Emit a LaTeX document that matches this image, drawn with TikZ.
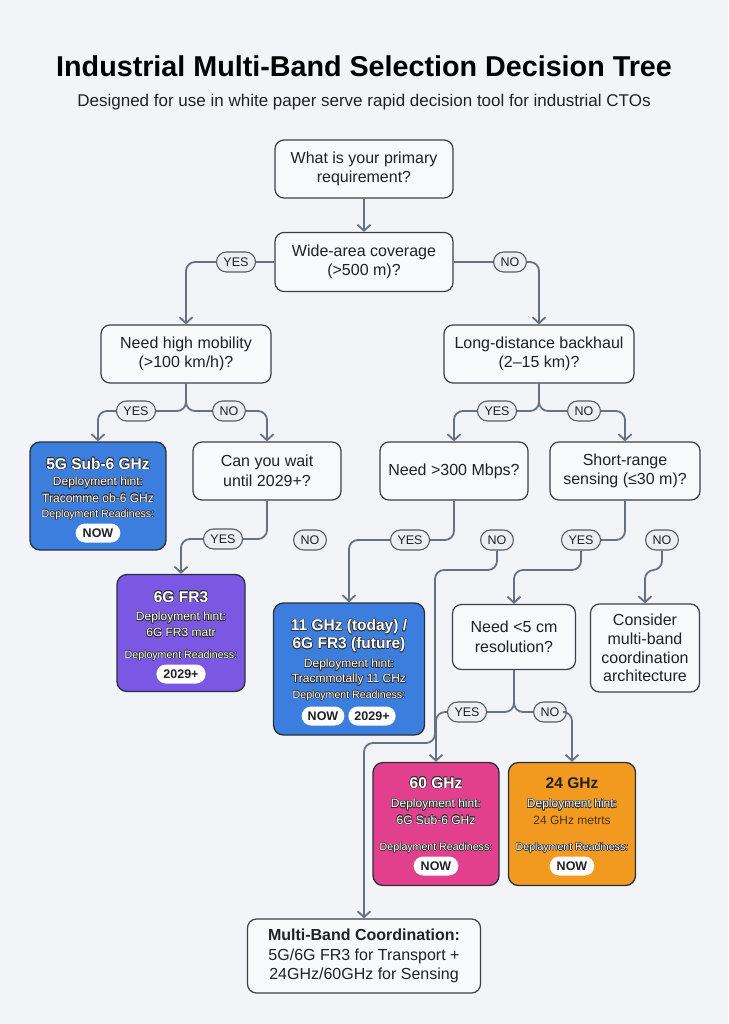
\documentclass[tikz,border=0pt]{standalone}
\usepackage{fontspec}
\setmainfont{Liberation Sans}
\usepackage{contour}
\contourlength{0.5pt}
\usetikzlibrary{arrows.meta,shapes.misc}
\definecolor{bg}{HTML}{F2F4F7}
\definecolor{boxfill}{HTML}{F8F9FB}
\definecolor{boxline}{HTML}{3A3F48}
\definecolor{conncol}{HTML}{667282}
\definecolor{pillfill}{HTML}{ECEEF2}
\definecolor{pillline}{HTML}{565D68}
\definecolor{txt}{HTML}{1E2126}
\definecolor{cline}{HTML}{2A2F3B}
\definecolor{cblue}{HTML}{3B7EDD}
\definecolor{cpurple}{HTML}{7A58E3}
\definecolor{cpink}{HTML}{E2408D}
\definecolor{corange}{HTML}{F29A20}
\definecolor{brown}{HTML}{4A3210}
\newcommand\olt[1]{\contour{black!80}{#1}}
\begin{document}
\begin{tikzpicture}[x=1pt,y=-1pt,
  qbox/.style={draw=boxline, line width=1.2pt, fill=boxfill, rounded corners=9pt, align=center,
    font=\fontsize{16}{19.5}\selectfont, text=txt, inner sep=0pt},
  pill/.style={rounded rectangle, draw=pillline, line width=1.1pt, fill=pillfill,
    font=\fontsize{12.5}{14}\selectfont, text=txt, minimum height=20pt, inner xsep=6pt, inner ysep=2pt},
  conn/.style={draw=conncol, line width=1.8pt, rounded corners=9pt},
  arr/.style={conn, -{Straight Barb[length=6pt,width=13pt]}},
  cbox/.style={draw=cline, line width=1.3pt, rounded corners=10pt, inner sep=0pt},
  ctitle/.style={font=\bfseries\fontsize{15.5}{18}\selectfont, text=white, align=center},
  csub/.style={font=\fontsize{12}{14}\selectfont, text=white},
  cread/.style={font=\fontsize{10.6}{13}\selectfont, text=white},
  badge/.style={rounded rectangle, fill=white, draw=none, font=\bfseries\fontsize{12.5}{14}\selectfont,
    text=txt, minimum height=19pt, inner xsep=6pt, inner ysep=2pt}
]
\fill[bg] (0,0) rectangle (728,1024);
\useasboundingbox (0,0) rectangle (728,1024);

% title
\node[font=\bfseries\fontsize{28.7}{33}\selectfont, text=black] (title) at (364,66) {Industrial Multi-Band Selection Decision Tree};
\node[font=\fontsize{17}{20}\selectfont, text=txt] (subtitle) at (364,102) {Designed for use in white paper serve rapid decision tool for industrial CTOs};

% question boxes
\node[qbox, minimum width=178pt, minimum height=58pt] (q1) at (364,169) {What is your primary\\requirement?};
\node[qbox, minimum width=178pt, minimum height=59pt] (q2) at (364,262) {Wide-area coverage\\(>500 m)?};
\node[qbox, minimum width=170pt, minimum height=58pt] (q3) at (186,354) {Need high mobility\\(>100 km/h)?};
\node[qbox, minimum width=190pt, minimum height=58pt] (q4) at (539,354) {Long-distance backhaul\\(2–15 km)?};
\node[qbox, minimum width=148pt, minimum height=58pt] (q5) at (267,471) {Can you wait\\until 2029+?};
\node[qbox, minimum width=148pt, minimum height=58pt] (q6) at (454,471) {Need >300 Mbps?};
\node[qbox, minimum width=150pt, minimum height=58pt] (q7) at (625,471) {Short-range\\sensing (≤30 m)?};
\node[qbox, minimum width=123pt, minimum height=65pt] (q8) at (514,637) {Need <5 cm\\resolution?};
\node[qbox, minimum width=109pt, minimum height=88pt, font=\fontsize{16}{18.7}\selectfont] (cons) at (645,648) {Consider\\multi-band\\coordination\\architecture};
\node[qbox, minimum width=233pt, minimum height=74pt, font=\fontsize{16}{19.5}\selectfont] (mb) at (364,956) {\textbf{Multi-Band Coordination:}\\5G/6G FR3 for Transport +\\24GHz/60GHz for Sensing};

% colored result boxes
\node[cbox, fill=cblue, minimum width=136pt, minimum height=108pt] (b5g) at (98,496) {};
\node[ctitle] (b5gt) at (98,464) {\olt{5G Sub-6 GHz}};
\node[csub] (b5gh) at (98,483) {\olt{Deployment hint:}};
\node[csub] (b5gh2) at (98,498) {\olt{Tracomme ob-6 GHz}};
\node[cread] (b5gr) at (98,515) {\olt{Deployment Readiness:}};
\node[badge] (b5gn) at (98,533) {NOW};

\node[cbox, fill=cpurple, minimum width=128pt, minimum height=117pt] (b6g) at (181,633) {};
\node[ctitle] (b6gt) at (181,597) {\olt{6G FR3}};
\node[csub] (b6gh) at (181,618) {\olt{Deployment hint:}};
\node[csub] (b6gh2) at (181,633) {\olt{6G FR3 matr}};
\node[cread] (b6gr) at (181,656) {\olt{Deployment Readiness:}};
\node[badge] (b6gn) at (181,674) {2029+};

\node[cbox, fill=cblue, minimum width=151pt, minimum height=132pt] (b11) at (349,669) {};
\node[ctitle] (b11t) at (349,636) {\olt{11 GHz (today) /}\\\olt{6G FR3 (future)}};
\node[csub] (b11h) at (349,665) {\olt{Deployment hint:}};
\node[csub] (b11h2) at (349,680) {\olt{Tracmmotally 11 CHz}};
\node[cread] (b11r) at (349,696) {\olt{Deployment Readiness:}};
\node[badge, inner xsep=5pt] (b11n) at (323,716) {NOW};
\node[badge, inner xsep=5pt] (b11y) at (372,716) {2029+};

\node[cbox, fill=cpink, minimum width=126pt, minimum height=123pt] (b60) at (436,824) {};
\node[ctitle] (b60t) at (436,783) {\olt{60 GHz}};
\node[csub] (b60h) at (436,805) {\olt{Deployment hint:}};
\node[csub] (b60h2) at (436,820) {\olt{6G Sub-6 GHz}};
\node[cread] (b60r) at (436,848) {\olt{Deplayment Readiness:}};
\node[badge] (b60n) at (436,866) {NOW};

\node[cbox, fill=corange, minimum width=127pt, minimum height=123pt] (b24) at (572,824) {};
\node[ctitle, text=txt] (b24t) at (572,783) {24 GHz};
\node[csub] (b24h) at (572,805) {\olt{Deployment hint:}};
\node[csub, text=brown] (b24h2) at (572,820) {24 GHz metrts};
\node[cread] (b24r) at (572,848) {\olt{Deplayment Readiness:}};
\node[badge] (b24n) at (572,866) {NOW};

% pills
\node[pill] (y1) at (236,262) {YES};
\node[pill] (n1) at (510,262) {NO};
\node[pill] (y2) at (136,411) {YES};
\node[pill] (n2) at (229,411) {NO};
\node[pill] (y3) at (497,411) {YES};
\node[pill] (n3) at (584,411) {NO};
\node[pill] (y4) at (223,539) {YES};
\node[pill] (n4) at (310,540) {NO};
\node[pill] (y5) at (410,540) {YES};
\node[pill] (n5) at (497,540) {NO};
\node[pill] (y6) at (581,540) {YES};
\node[pill] (n6) at (662,540) {NO};
\node[pill] (y7) at (467,712) {YES};
\node[pill] (n7) at (550,712) {NO};

% helper coordinates
\coordinate (k1) at (435,570);
\coordinate (k2) at (435,743);
\coordinate (k3) at (514,570);
\coordinate (k4) at (645,570);

% connectors
\draw[arr] (q1.south) -- (q2.north);
\draw[conn] (q2.west) -- (y1.east);
\draw[arr] (y1.west) -| (q3.north);
\draw[conn] (q2.east) -- (n1.west);
\draw[arr] (n1.east) -| (q4.north);

\draw[conn] (q3.south) |- (y2.east);
\draw[conn] (q3.south) |- (n2.west);
\draw[arr] (y2.west) -| (b5g.north);
\draw[arr] (n2.east) -| (q5.north);

\draw[conn] (q4.south) |- (y3.east);
\draw[conn] (q4.south) |- (n3.west);
\draw[arr] (y3.west) -| (q6.north);
\draw[arr] (n3.east) -| (q7.north);

\draw[conn] (q5.south) |- (y4.east);
\draw[arr] (y4.west) -| (b6g.north);

\draw[conn] (q6.south) |- (y5.east);
\draw[arr] (y5.west) -| (b11.north);
\draw[arr] (n5.south) |- (k1) -- (k2) -| (mb.north);

\draw[conn] (q7.south) |- (y6.east);
\draw[arr] (y6.south) |- (k3) -- (q8.north);
\draw[arr] (n6.south) |- (k4) -- (cons.north);

\draw[conn] (q8.south) |- (y7.east);
\draw[conn] (q8.south) |- (n7.west);
\draw[arr] (y7.west) -| (b60.north);
\draw[arr] (n7.east) -| (b24.north);
\end{tikzpicture}
\end{document}
